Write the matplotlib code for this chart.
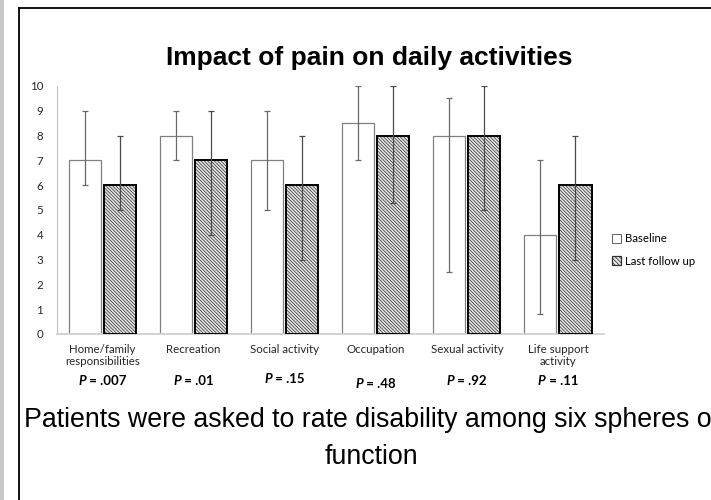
import matplotlib
matplotlib.use("Agg")
import matplotlib.pyplot as plt
from matplotlib.patches import Patch, Rectangle
from matplotlib.lines import Line2D
import numpy as np

# ---- data -------------------------------------------------------------
categories = ["Home/family\nresponsibilities", "Recreation", "Social activity",
              "Occupation", "Sexual activity", "Life support\nactivity"]
baseline = [7, 8, 7, 8.5, 8, 4]
baseline_low = [6, 7, 5, 7, 2.5, 0.8]
baseline_high = [9, 9, 9, 10, 9.5, 7]
followup = [6, 7, 6, 8, 8, 6]
followup_low = [5, 4, 3, 5.3, 5, 3]
followup_high = [8, 9, 8, 10, 10, 8]
p_values = [".007", ".01", ".15", ".48", ".92", ".11"]
p_offsets = [0, 0, -2, 3, 0, 0]   # small vertical shifts in pixels
yticks = list(range(0, 11))

LABEL_FONT = ["Lato", "DejaVu Sans"]
TITLE_FONT = ["Liberation Sans", "DejaVu Sans"]

plt.rcParams["hatch.linewidth"] = 0.55

W, H = 711, 500
fig = plt.figure(figsize=(W / 100, H / 100), dpi=100)

# light grey strip at the far left and the black frame of the slide
fig.add_artist(Rectangle((0, 0), 4 / W, 1, transform=fig.transFigure,
                         facecolor="#c8c8c8", edgecolor="none"))
fig.add_artist(Line2D([19 / W, 19 / W], [0, 1 - 8 / H], transform=fig.transFigure,
                      color="black", lw=1.3))
fig.add_artist(Line2D([19 / W, 1], [1 - 8 / H, 1 - 8 / H], transform=fig.transFigure,
                      color="black", lw=1.3))

ax = fig.add_axes([57 / W, 1 - 334 / H, (603.5 - 57) / W, (334 - 86) / H])

x = np.arange(len(categories))
bw = 0.352
off = 0.1925

# baseline bars
ax.bar(x - off, baseline, bw, facecolor="white", edgecolor="#808080", linewidth=0.9, zorder=2)
# follow-up bars: dense hatched fill, then a black outline on top
ax.bar(x + off, followup, bw, facecolor="#e6e6e6", edgecolor="#3a3a3a",
       hatch="\\" * 10, linewidth=0, zorder=2)
ax.bar(x + off, followup, bw, facecolor="none", edgecolor="black", linewidth=1.4, zorder=3)

b = np.array(baseline)
f = np.array(followup)
ax.errorbar(x - off, b, yerr=[b - np.array(baseline_low), np.array(baseline_high) - b],
            fmt="none", ecolor="#6a6a6a", elinewidth=0.9, capsize=2.3, capthick=0.9, zorder=4)
ax.errorbar(x + off, f, yerr=[f - np.array(followup_low), np.array(followup_high) - f],
            fmt="none", ecolor="#4a4a4a", elinewidth=0.9, capsize=2.3, capthick=0.9, zorder=4)

ax.set_xlim(-0.5, len(categories) - 0.5)
ax.set_ylim(0, 10)
ax.set_yticks(yticks)
ax.set_xticks(x)
ax.set_xticklabels(categories, fontfamily=LABEL_FONT, fontsize=8.3, color="#262626",
                   linespacing=1.15)
ax.set_yticklabels([str(t) for t in yticks], fontfamily=LABEL_FONT, fontsize=8.3,
                   color="#262626")
ax.tick_params(axis="both", length=0)
ax.tick_params(axis="y", pad=10)
ax.tick_params(axis="x", pad=7)
for s in ("top", "right"):
    ax.spines[s].set_visible(False)
ax.spines["left"].set_color("#c0c0c0")
ax.spines["left"].set_linewidth(0.8)
ax.spines["bottom"].set_color("#d0d0d0")
ax.spines["bottom"].set_linewidth(1.3)

# legend
handles = [Patch(facecolor="white", edgecolor="#606060", linewidth=0.7),
           Patch(facecolor="#e6e6e6", edgecolor="#303030", hatch="\\" * 8, linewidth=0.9)]
fig.legend(handles, ["Baseline", "Last follow up"], loc="center left",
           bbox_to_anchor=(612 / W, 1 - 250 / H), frameon=False,
           prop={"family": LABEL_FONT, "size": 8.2}, handlelength=0.8, handleheight=0.8,
           handletextpad=0.3, labelspacing=1.0, borderaxespad=0, borderpad=0)

# title and caption
fig.text(369 / W, 1 - 58 / H, "Impact of pain on daily activities", ha="center", va="center",
         fontsize=19, fontweight="bold", fontfamily=TITLE_FONT)
fig.text(372 / W, 1 - 420 / H, "Patients were asked to rate disability among six spheres of",
         ha="center", va="center", fontsize=19.3, fontfamily=TITLE_FONT)
fig.text(371 / W, 1 - 457 / H, "function", ha="center", va="center", fontsize=19.3,
         fontfamily=TITLE_FONT)

# P values under each category: italic bold "P", bold rest, centred as a unit
fig.canvas.draw()
renderer = fig.canvas.get_renderer()
for i, (pv, dy) in enumerate(zip(p_values, p_offsets)):
    cx_disp = ax.transData.transform((x[i], 0))[0]
    ypix = H - (381 + dy)
    t1 = fig.text(0, 0, "P", fontsize=9.5, fontweight="bold", fontstyle="italic",
                  fontfamily=LABEL_FONT, ha="left", va="center")
    t2 = fig.text(0, 0, " = " + pv, fontsize=9.5, fontweight="bold",
                  fontfamily=LABEL_FONT, ha="left", va="center")
    w1 = t1.get_window_extent(renderer).width
    w2 = t2.get_window_extent(renderer).width
    left = cx_disp - (w1 + w2) / 2
    t1.set_position((left / W, ypix / H))
    t2.set_position(((left + w1) / W, ypix / H))

fig.savefig("out.png", dpi=100)
